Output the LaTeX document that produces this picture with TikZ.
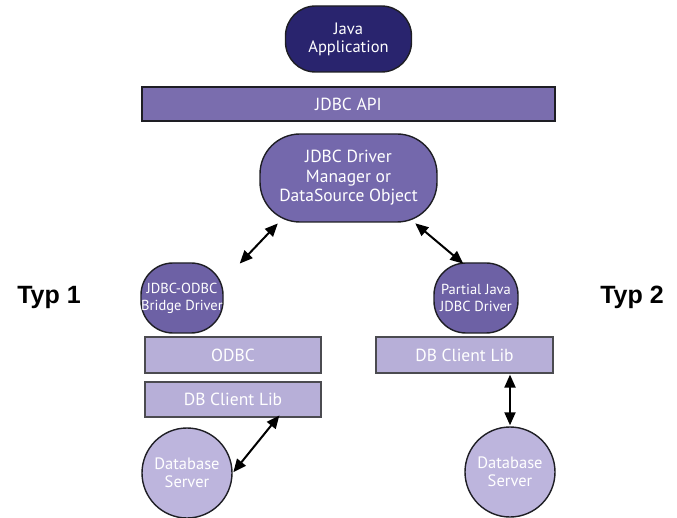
\documentclass[tikz,border=0pt]{standalone}
\usepackage{fontspec}
\setmainfont{PT Sans}
\newfontfamily\typfont{Liberation Sans}
\usetikzlibrary{arrows.meta}
\definecolor{navy}{HTML}{29246E}
\definecolor{barc}{HTML}{7A6DAE}
\definecolor{mgrc}{HTML}{7468AC}
\definecolor{drvc}{HTML}{6D61A5}
\definecolor{libc}{HTML}{B7AFD8}
\definecolor{srvc}{HTML}{BDB5DD}
\definecolor{edge}{HTML}{1E1E24}
\tikzset{
  base/.style={draw=edge, line width=1.4pt, text=white, align=center, inner sep=0pt},
  stadium/.style={base, rectangle, rounded corners=#1},
  barbox/.style={base, rectangle, fill=barc},
  libbox/.style={base, rectangle, fill=libc, draw=edge!80, line width=1.2pt},
  server/.style={base, circle, fill=srvc, minimum size=90pt},
  typlabel/.style={font=\typfont\bfseries\fontsize{25}{28}\selectfont, text=black},
  conn/.style={line width=2pt, {Triangle[length=13pt,width=11pt]}-{Triangle[length=13pt,width=11pt]}, shorten <=1pt, shorten >=1pt}
}
\begin{document}
\begin{tikzpicture}[x=1pt,y=-1pt]
\useasboundingbox (0,0) rectangle (677,518);
\node[stadium=30pt, fill=navy, minimum width=126pt, minimum height=66pt, font=\fontsize{16.5}{18}\selectfont] (java) at (348.5,39) {Java\\Application};
\node[barbox, minimum width=413pt, minimum height=34pt, font=\fontsize{17.5}{19}\selectfont] (api) at (348.5,104) {JDBC API};
\node[stadium=40pt, fill=mgrc, minimum width=177pt, minimum height=88pt, font=\fontsize{17.5}{19.5}\selectfont] (mgr) at (348.5,178) {JDBC Driver\\Manager or\\DataSource Object};
\node[stadium=32pt, fill=drvc, minimum width=82pt, minimum height=70pt, font=\fontsize{14.5}{17}\selectfont] (b1) at (182,298) {JDBC-ODBC\\Bridge Driver};
\node[stadium=32pt, fill=drvc, minimum width=84pt, minimum height=70pt, font=\fontsize{14.5}{17}\selectfont] (b2) at (476,298) {Partial Java\\JDBC Driver};
\node[typlabel] (t1) at (49,297) {Typ 1};
\node[typlabel] (t2) at (632,297) {Typ 2};
\node[libbox, minimum width=176pt, minimum height=36pt, font=\fontsize{17.5}{19}\selectfont] (odbc) at (233,355) {ODBC};
\node[libbox, minimum width=176pt, minimum height=35pt, font=\fontsize{17.5}{19}\selectfont] (cl1) at (233,399.5) {DB Client Lib};
\node[libbox, minimum width=177pt, minimum height=36pt, font=\fontsize{17.5}{19}\selectfont] (cl2) at (464.5,355) {DB Client Lib};
\node[server, font=\fontsize{16.5}{18}\selectfont] (s1) at (187,473) {Database\\Server};
\node[server, font=\fontsize{16.5}{18}\selectfont] (s2) at (510,472) {Database\\Server};
\draw[conn] ([xshift=-70pt]mgr.south) -- ([xshift=57pt,yshift=-2pt]b1.north);
\draw[conn] ([xshift=66pt]mgr.south) -- ([xshift=-12pt,yshift=-2pt]b2.north);
\draw[conn] ([xshift=47pt,yshift=3pt]cl1.south) -- (s1.east);
\draw[conn] (cl2.south -| s2.north) -- (s2.north);
\end{tikzpicture}
\end{document}
